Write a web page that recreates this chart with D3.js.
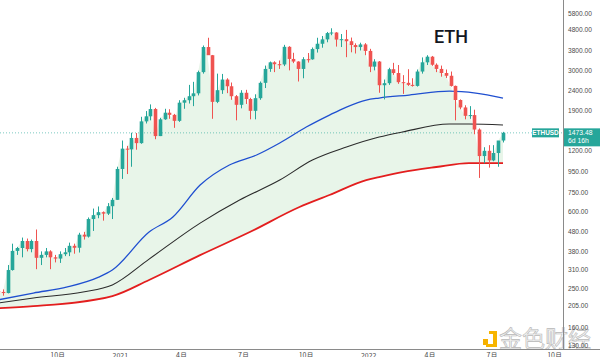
<!DOCTYPE html>
<html><head><meta charset="utf-8">
<script src="https://cdn.jsdelivr.net/npm/d3@7"></script>
<style>
html,body{margin:0;padding:0;background:#fff;overflow:hidden}
svg{display:block}
</style></head>
<body>
<svg id="c" width="600" height="357"></svg>
<script>
// ---- weekly candles (week start, open, high, low, close) ----
const weeks = ["2020-06-29","2020-07-06","2020-07-13","2020-07-20","2020-07-27","2020-08-03","2020-08-10","2020-08-17","2020-08-24","2020-08-31","2020-09-07","2020-09-14","2020-09-21","2020-09-28","2020-10-05","2020-10-12","2020-10-19","2020-10-26","2020-11-02","2020-11-09","2020-11-16","2020-11-23","2020-11-30","2020-12-07","2020-12-14","2020-12-21","2020-12-28","2021-01-04","2021-01-11","2021-01-18","2021-01-25","2021-02-01","2021-02-08","2021-02-15","2021-02-22","2021-03-01","2021-03-08","2021-03-15","2021-03-22","2021-03-29","2021-04-05","2021-04-12","2021-04-19","2021-04-26","2021-05-03","2021-05-10","2021-05-17","2021-05-24","2021-05-31","2021-06-07","2021-06-14","2021-06-21","2021-06-28","2021-07-05","2021-07-12","2021-07-19","2021-07-26","2021-08-02","2021-08-09","2021-08-16","2021-08-23","2021-08-30","2021-09-06","2021-09-13","2021-09-20","2021-09-27","2021-10-04","2021-10-11","2021-10-18","2021-10-25","2021-11-01","2021-11-08","2021-11-15","2021-11-22","2021-11-29","2021-12-06","2021-12-13","2021-12-20","2021-12-27","2022-01-03","2022-01-10","2022-01-17","2022-01-24","2022-01-31","2022-02-07","2022-02-14","2022-02-21","2022-02-28","2022-03-07","2022-03-14","2022-03-21","2022-03-28","2022-04-04","2022-04-11","2022-04-18","2022-04-25","2022-05-02","2022-05-09","2022-05-16","2022-05-23","2022-05-30","2022-06-06","2022-06-13","2022-06-20","2022-06-27","2022-07-04","2022-07-11","2022-07-18"];
const opens  = [225,241,239,236,307,382,395,428,390,428,353,365,380,355,350,368,376,405,396,460,450,550,575,595,585,637,685,975,1230,1220,1390,1310,1680,1780,1935,1420,1720,1855,1810,1690,2080,2140,2240,2315,2950,3930,3580,2100,2400,2710,2510,2240,2030,2330,2170,1895,2190,2610,3060,3300,3230,3220,3940,3430,3330,3060,3420,3415,3840,4080,4290,4610,4640,4280,4300,4200,4020,3930,4050,3760,3140,3330,2540,2600,3050,2920,2630,2610,2550,2520,2970,3300,3520,3210,3060,2920,2830,2520,2145,1970,1790,1805,1530,1130,1200,1075,1170,1350];
const highs  = [245,250,246,325,415,400,445,440,435,488,380,395,385,365,380,395,420,415,470,475,560,620,635,600,660,700,1000,1350,1270,1475,1470,1770,1890,2040,1960,1750,1940,1930,1830,2140,2200,2550,2640,3000,4000,4370,3590,2900,2890,2750,2620,2270,2400,2410,2200,2290,2650,3180,3330,3340,3370,4030,3970,3680,3340,3500,3670,3910,4370,4460,4670,4870,4660,4560,4780,4380,4100,4130,4110,3850,3420,3350,2710,3100,3280,3200,2850,3050,2750,3040,3490,3580,3550,3260,3180,3040,2970,2530,2160,2020,2000,1920,1550,1250,1280,1280,1290,1490];
const lows   = [222,235,229,235,305,365,355,380,376,310,325,355,310,335,333,360,360,370,375,435,445,480,555,540,576,550,685,870,920,1000,1215,1300,1640,1700,1370,1420,1710,1730,1560,1670,1940,2060,2000,2260,2900,3600,1730,2070,2300,2320,2150,1700,1950,2050,1720,1720,2150,2460,2960,2950,3060,3160,3010,3270,2650,2750,3290,3400,3690,3900,4150,4500,3950,3930,3500,3700,3650,3780,3580,2950,3010,2330,2160,2550,2860,2580,2300,2520,2500,2500,2900,3200,3170,2950,2800,2760,2500,1700,1930,1720,1730,1450,880,1040,990,1065,1000,1320];
const closes = [241,239,236,307,382,395,428,390,428,353,365,380,355,350,368,376,405,396,460,450,550,575,595,585,637,685,975,1230,1220,1390,1310,1680,1780,1935,1420,1720,1855,1810,1690,2080,2140,2240,2315,2950,3930,3580,2100,2400,2710,2510,2240,2030,2330,2170,1895,2190,2610,3060,3300,3230,3220,3940,3430,3330,3060,3420,3415,3840,4080,4290,4610,4640,4280,4300,4200,4020,3930,4050,3760,3140,3330,2540,2600,3050,2920,2630,2610,2550,2520,2970,3300,3520,3210,3060,2920,2830,2520,2145,1970,1790,1805,1530,1130,1200,1075,1170,1350,1473.48];

// ---- moving averages ----
const blueDates = ["2020-06-29","2020-08-27","2020-10-16","2020-12-01","2020-12-21","2021-02-13","2021-03-20","2021-04-29","2021-06-11","2021-07-21","2021-08-24","2021-10-02","2021-11-05","2021-11-30","2021-12-29","2022-01-17","2022-03-02","2022-04-30","2022-06-08","2022-07-18"];
const blueVals  = [216,236,253,283,307,474,563,811,1020,1144,1312,1575,1806,1979,2144,2194,2270,2376,2323,2194];
const blackDates = ["2020-06-29","2020-08-27","2020-11-08","2020-12-21","2021-02-13","2021-04-29","2021-06-26","2021-08-24","2021-10-11","2021-11-30","2022-01-17","2022-02-20","2022-04-30","2022-05-29","2022-07-18"];
const blackVals  = [209,223,239,259,348,525,684,859,1080,1253,1404,1487,1630,1630,1611];
const redDates = ["2020-06-29","2020-08-27","2020-12-21","2021-02-13","2021-04-29","2021-07-11","2021-09-22","2021-11-05","2021-12-29","2022-01-17","2022-02-20","2022-04-11","2022-05-29","2022-07-18"];
const redVals  = [198,203,228,274,364,474,631,724,859,889,941,997,1043,1043];

// ---- axis labels ----
const priceTicks = [5800,4800,3800,3000,2400,1900,1200,950,750,600,480,380,310,250,205,160,130];
const timeTickDates = ["2020-07-01","2020-10-01","2021-01-01","2021-04-01","2021-07-01","2021-10-01","2022-01-01","2022-04-01","2022-07-01","2022-10-01"];
const timeTickLabels = ["7月","10月","2021","4月","7月","10月","2022","4月","7月","10月"];
const lastPrice = 1473.48;
const symbol = "ETHUSD";
const countdown = "6d 16h";
const title = "ETH";

const parse = d3.utcParse("%Y-%m-%d");
const candles = weeks.map((w,i)=>({d:parse(w),o:opens[i],h:highs[i],l:lows[i],c:closes[i]}));
const pts = (ds,vs)=>ds.map((d,i)=>({d:parse(d),v:vs[i]}));
const blue = pts(blueDates,blueVals), black = pts(blackDates,blackVals), red = pts(redDates,redVals);

const W=600,H=357, axisX=563, axisY=349;
const x = d3.scaleUtc().domain([parse("2020-07-20"),parse("2022-07-18")]).range([7.5,503]);
const y = d3.scaleLog().domain([5800,130]).range([13,345.2]);

const svg = d3.select("#c");
svg.append("defs").append("clipPath").attr("id","plot").append("rect").attr("x",0).attr("y",0).attr("width",axisX).attr("height",axisY);
const g = svg.append("g").attr("clip-path","url(#plot)");

// fill between price and red band
g.append("path").datum(candles)
  .attr("d",d3.area().x(d=>x(d.d)).y0(axisY).y1(d=>y(d.c)))
  .attr("fill","#e8f5e9");
g.append("path").datum(red)
  .attr("d",d3.area().x(d=>x(d.d)).y0(axisY+5).y1(d=>y(d.v)).curve(d3.curveMonotoneX))
  .attr("fill","#ffffff");

// last price dashed line
g.append("line").attr("x1",0).attr("x2",axisX).attr("y1",y(lastPrice)).attr("y2",y(lastPrice))
  .attr("stroke","#26a69a").attr("stroke-opacity",0.6).attr("stroke-width",1).attr("stroke-dasharray","1,2");

const ln = d3.line().x(d=>x(d.d)).y(d=>y(d.v)).curve(d3.curveMonotoneX);
g.append("path").datum(red).attr("d",ln).attr("fill","none").attr("stroke","#e31e1e").attr("stroke-width",1.8);
g.append("path").datum(black).attr("d",ln).attr("fill","none").attr("stroke","#2b2b2b").attr("stroke-width",1.1);
g.append("path").datum(blue).attr("d",ln).attr("fill","none").attr("stroke","#1f4fd0").attr("stroke-width",1.3);

// candles
const up="#26a69a", dn="#ef5350", bw=3.6;
const cg = g.append("g");
cg.selectAll("line.w").data(candles).join("line")
  .attr("x1",d=>Math.round(x(d.d))+0.5).attr("x2",d=>Math.round(x(d.d))+0.5)
  .attr("y1",d=>y(d.h)).attr("y2",d=>y(d.l))
  .attr("stroke",d=>d.c>=d.o?up:dn).attr("stroke-width",1);
cg.selectAll("rect").data(candles).join("rect")
  .attr("x",d=>Math.round(x(d.d))+0.5-bw/2).attr("width",bw)
  .attr("y",d=>y(Math.max(d.o,d.c)))
  .attr("height",d=>Math.max(1,y(Math.min(d.o,d.c))-y(Math.max(d.o,d.c))))
  .attr("fill",d=>d.c>=d.o?up:dn);

// title
svg.append("text").attr("x",434).attr("y",43).text(title)
  .attr("font-family","Roboto, sans-serif").attr("font-weight",500).attr("font-size",18).attr("fill","#131722");

// watermark
const wm = svg.append("g");
wm.append("rect").attr("x",483).attr("y",339).attr("width",5).attr("height",6).attr("fill","#f5b000");
wm.append("path").attr("d","M489 331 h8 v16 h-11 v-3 h7 v-10 h-4 Z").attr("fill","#f7b500");
wm.append("text").attr("x",499).attr("y",347).text("金色财经")
  .attr("font-family","'Noto Sans CJK SC', sans-serif").attr("font-size",23)
  .attr("fill","#f2f2f2").attr("stroke","#b8b8b8").attr("stroke-width",0.6);

// right axis
const ya = svg.append("g").attr("transform",`translate(${axisX},0)`)
  .call(d3.axisRight(y).tickValues(priceTicks).tickSize(0).tickPadding(5).tickFormat(d3.format(".2f")));
ya.select(".domain").remove();
ya.selectAll("text").attr("font-family","'Liberation Sans', Arial, sans-serif").attr("font-size",6.6).attr("fill","#4a4a4a");
svg.append("line").attr("x1",axisX+0.5).attr("x2",axisX+0.5).attr("y1",0).attr("y2",axisY).attr("stroke","#8a8a8a").attr("stroke-width",1);

// bottom axis
const xa = svg.append("g").attr("transform",`translate(0,${axisY})`)
  .call(d3.axisBottom(x).tickValues(timeTickDates.map(parse)).tickSize(0).tickPadding(4)
    .tickFormat((d,i)=>timeTickLabels[i]));
xa.select(".domain").remove();
xa.selectAll("text").attr("font-family","'Noto Sans CJK SC', sans-serif").attr("font-size",7).attr("fill","#4a4a4a");
svg.append("line").attr("x1",0).attr("x2",W).attr("y1",axisY+0.5).attr("y2",axisY+0.5).attr("stroke","#8a8a8a").attr("stroke-width",1);

// price tags
const py = y(lastPrice);
svg.append("rect").attr("x",532).attr("y",py-4.5).attr("width",27).attr("height",9).attr("fill","#26a69a");
svg.append("text").attr("x",545.5).attr("y",py+2.4).attr("text-anchor","middle").text(symbol)
  .attr("font-family","'Liberation Sans', Arial, sans-serif").attr("font-size",6.4).attr("font-weight","bold").attr("fill","#fff");
svg.append("rect").attr("x",axisX+1).attr("y",py-4.5).attr("width",W-axisX-1).attr("height",18).attr("fill","#26a69a");
svg.append("text").attr("x",568).attr("y",py+2.4).text(d3.format(".2f")(lastPrice))
  .attr("font-family","'Liberation Sans', Arial, sans-serif").attr("font-size",6.8).attr("fill","#fff");
svg.append("text").attr("x",568).attr("y",py+10.6).text(countdown)
  .attr("font-family","'Liberation Sans', Arial, sans-serif").attr("font-size",6.8).attr("fill","#fff");
</script>
</body></html>
